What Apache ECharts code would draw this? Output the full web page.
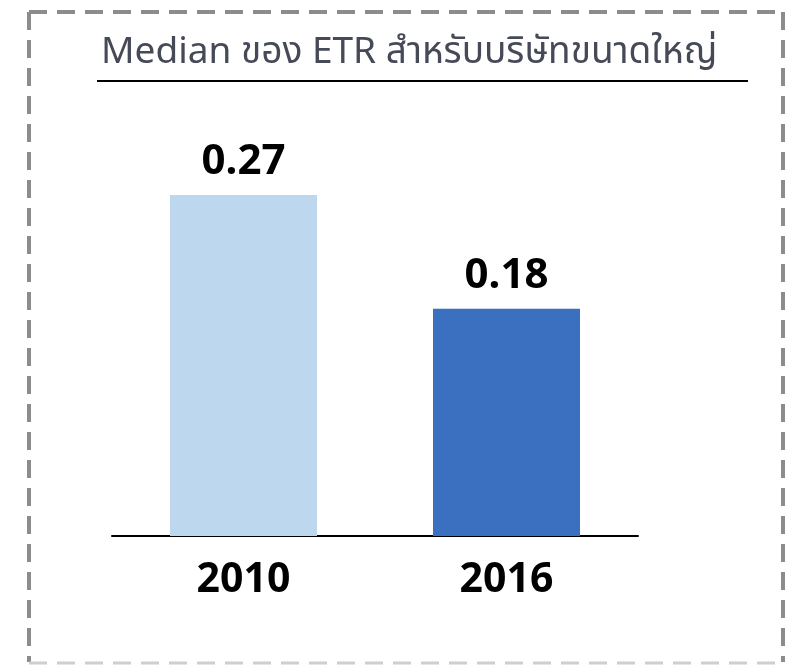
<!DOCTYPE html>
<html>
<head>
<meta charset="utf-8">
<script src="https://cdn.jsdelivr.net/npm/echarts@6/dist/echarts.min.js"></script>
<style>
  html, body { margin: 0; padding: 0; background: #fff; }
  #etrBar { width: 795px; height: 668px; }
</style>
</head>
<body>
<div id="etrBar"></div>
<script>
// 数据
var titleText = 'Median ของ ETR สำหรับบริษัทขนาดใหญ่';
var years = ['2010', '2016'];
var etrValues = [0.27, 0.18];
var barColors = ['#bdd7ee', '#3b70c0'];

var myChart = echarts.init(document.getElementById('etrBar'));

var borderDark = '#8c8c8c';
var borderLight = '#cfcfcf';
var dash = [18, 10];

myChart.setOption({
  backgroundColor: '#fff',
  animation: false,
  title: {
    text: titleText,
    left: 96,
    top: 32,
    textStyle: {
      color: '#464a57',
      fontSize: 37,
      fontWeight: 'normal',
      fontFamily: '"Noto Sans Thai", "Noto Sans", sans-serif'
    }
  },
  grid: {
    left: 112,
    right: 157,
    top: 195,
    bottom: 132,
    containLabel: false
  },
  xAxis: {
    type: 'category',
    data: years,
    axisLine: { lineStyle: { color: '#000', width: 2 } },
    axisTick: { show: false },
    axisLabel: {
      color: '#000',
      fontSize: 41,
      fontWeight: 'bold',
      fontFamily: '"Noto Sans", sans-serif',
      margin: 24
    }
  },
  yAxis: {
    type: 'value',
    min: 0,
    max: 0.27,
    show: false
  },
  series: [{
    type: 'bar',
    data: etrValues.map(function (v, i) {
      return { value: v, itemStyle: { color: barColors[i] } };
    }),
    barWidth: 147,
    label: {
      show: true,
      position: 'top',
      distance: 12,
      color: '#000',
      fontSize: 42,
      fontWeight: 'bold',
      fontFamily: '"Noto Sans", sans-serif',
      formatter: function (p) { return p.value.toFixed(2); }
    }
  }],
  graphic: [
    // 标题下划线
    { type: 'line', shape: { x1: 97, y1: 81, x2: 748, y2: 81 }, style: { stroke: '#000', lineWidth: 2 } },
    // 虚线边框
    { type: 'line', shape: { x1: 29, y1: 12, x2: 783, y2: 12 }, style: { stroke: borderDark, lineWidth: 4, lineDash: dash } },
    { type: 'line', shape: { x1: 29, y1: 12, x2: 29, y2: 662 }, style: { stroke: borderDark, lineWidth: 4, lineDash: dash } },
    { type: 'line', shape: { x1: 783, y1: 12, x2: 783, y2: 662 }, style: { stroke: borderDark, lineWidth: 4, lineDash: dash } },
    { type: 'line', shape: { x1: 29, y1: 663, x2: 783, y2: 663 }, style: { stroke: borderLight, lineWidth: 3, lineDash: dash } }
  ]
});
</script>
</body>
</html>
